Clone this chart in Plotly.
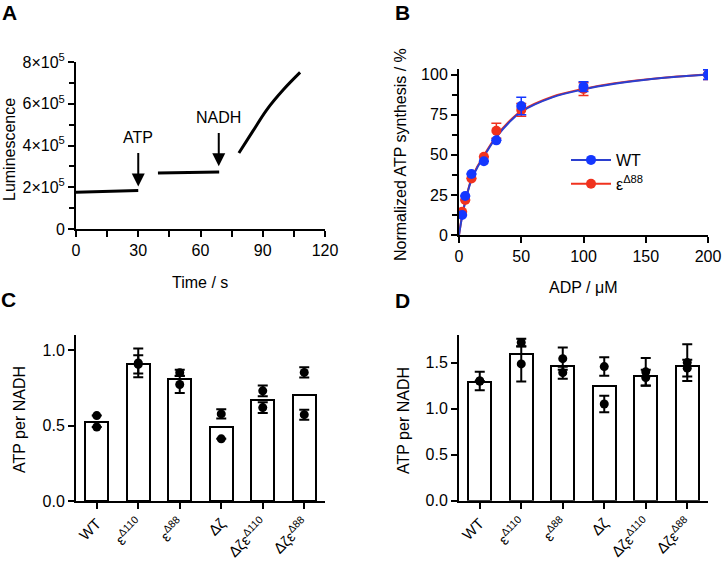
import plotly.graph_objects as go

# ---- Panel A: luminescence trace (None = gap between segments)
a_time = [0, 30, None, 39.5, 69, None, 78.5, 85, 92, 100, 108]
a_lum = [1.76e5, 1.85e5, None, 2.68e5, 2.73e5, None, 3.64e5, 4.65e5, 5.72e5, 6.68e5, 7.5e5]
a_yticks = [0, 2e5, 4e5, 6e5, 8e5]
a_yticktext = ["0", "2×10<sup>5</sup>", "4×10<sup>5</sup>", "6×10<sup>5</sup>", "8×10<sup>5</sup>"]

# ---- Panel B: ADP titration
b_adp = [2.5, 5, 10, 20, 30, 50, 100, 200]
b_wt = [12.5, 24.3, 38, 46, 59, 80.4, 92.5, 100]
b_wt_err = [0, 0, 0, 0, 0, 5.5, 3, 3]
b_e88 = [14.5, 21.8, 35.3, 48.8, 65, 78, 91, 100]
b_e88_err = [0, 0, 0, 0, 4.6, 4, 4, 3]
# fitted curves
b_fit_x = [0, 2.5, 5, 10, 15, 20, 30, 40, 50, 75, 100, 125, 150, 175, 200]
b_fit_wt = [0, 11.5, 20.5, 34.5, 42.5, 49, 61, 70, 76.8, 85.8, 90.8, 94.3, 96.8, 98.6, 100]
b_fit_e88 = [0, 12, 21, 35, 43, 49.6, 61.7, 70.6, 77.3, 86.2, 91.1, 94.6, 97, 98.8, 100.1]

# ---- Panels C and D: ATP per NADH
strains = ["WT", "ε<sup>Δ110</sup>", "ε<sup>Δ88</sup>", "Δζ",
           "Δζε<sup>Δ110</sup>", "Δζε<sup>Δ88</sup>"]
pos = [0, 1, 2, 3, 4, 5]
pt_pos = [0, 0, 1, 1, 2, 2, 3, 3, 4, 4, 5, 5]

c_bar = [0.521, 0.907, 0.807, 0.492, 0.672, 0.705]
c_pts = [0.566, 0.49, 0.915, 0.905, 0.85, 0.772, 0.577, 0.412, 0.73, 0.619, 0.852, 0.572]
c_err = [0, 0, 0.095, 0.06, 0.02, 0.056, 0.031, 0, 0.036, 0.036, 0.034, 0.033]

d_bar = [1.294, 1.595, 1.467, 1.243, 1.359, 1.464]
d_pts = [1.30, 1.30, 1.718, 1.486, 1.543, 1.391, 1.457, 1.051, 1.40, 1.337, 1.50, 1.44]
d_err = [0.1, 0, 0.04, 0.19, 0.12, 0.065, 0.1, 0.09, 0.15, 0.085, 0.2, 0.09]

W, H = 722, 563
FONT = "Liberation Sans, Arial, sans-serif"
BLUE = "#1437ff"
BLUE_LINE = "#2b3fcf"
RED = "#f0321e"


def px(x):
    return x / W


def py(y):
    return 1 - y / H


fig = go.Figure()

# A
fig.add_trace(go.Scatter(x=a_time, y=a_lum, mode="lines", line=dict(color="black", width=3, shape="spline"),
                         showlegend=False, xaxis="x", yaxis="y", connectgaps=False))

# B - fits
fig.add_trace(go.Scatter(x=b_fit_x, y=b_fit_e88, mode="lines", line=dict(color=RED, width=2, shape="spline"),
                         showlegend=False, xaxis="x2", yaxis="y2"))
fig.add_trace(go.Scatter(x=b_fit_x, y=b_fit_wt, mode="lines", line=dict(color=BLUE_LINE, width=2, shape="spline"),
                         showlegend=False, xaxis="x2", yaxis="y2"))
# B - points
fig.add_trace(go.Scatter(x=b_adp, y=b_e88, mode="markers", marker=dict(color=RED, size=10),
                         error_y=dict(type="data", array=b_e88_err, color=RED, thickness=1.5, width=5),
                         showlegend=False, xaxis="x2", yaxis="y2"))
fig.add_trace(go.Scatter(x=b_adp, y=b_wt, mode="markers", marker=dict(color=BLUE, size=10),
                         error_y=dict(type="data", array=b_wt_err, color=BLUE, thickness=1.5, width=5),
                         showlegend=False, xaxis="x2", yaxis="y2"))
# legend entries
fig.add_trace(go.Scatter(x=[None], y=[None], mode="lines+markers", name="WT",
                         line=dict(color=BLUE_LINE, width=2), marker=dict(color=BLUE, size=10),
                         xaxis="x2", yaxis="y2"))
fig.add_trace(go.Scatter(x=[None], y=[None], mode="lines+markers", name="ε<sup>Δ88</sup>",
                         line=dict(color=RED, width=2), marker=dict(color=RED, size=10),
                         xaxis="x2", yaxis="y2"))

# C and D
for bars, pts, errs, xa, ya in [(c_bar, c_pts, c_err, "x3", "y3"), (d_bar, d_pts, d_err, "x4", "y4")]:
    fig.add_trace(go.Bar(x=pos, y=bars, width=0.55, marker=dict(color="white", line=dict(color="black", width=2)),
                         showlegend=False, xaxis=xa, yaxis=ya))
    fig.add_trace(go.Scatter(x=pt_pos, y=pts, mode="markers", marker=dict(color="black", size=9),
                             error_y=dict(type="data", array=errs, color="black", thickness=2, width=5),
                             showlegend=False, xaxis=xa, yaxis=ya))

axis_common = dict(showline=True, linewidth=2, linecolor="black", ticks="outside", tickwidth=2,
                   ticklen=6, tickcolor="black", showgrid=False, zeroline=False,
                   tickfont=dict(family=FONT, size=16, color="black"), automargin=False)
cat_font = dict(family=FONT, size=15, color="black")

x_dom = [px(76), px(325)]
x_dom2 = [px(459), px(708)]

fig.update_layout(
    width=W, height=H,
    margin=dict(l=0, r=0, t=0, b=0),
    plot_bgcolor="white", paper_bgcolor="white",
    font=dict(family=FONT, size=15, color="black"),
    bargap=0,
    xaxis=dict(axis_common, domain=x_dom, range=[0, 120], tickvals=[0, 30, 60, 90, 120],
               minor=dict(dtick=15, ticks="outside", ticklen=6, tickwidth=2, tickcolor="black"),
               anchor="y"),
    yaxis=dict(axis_common, domain=[py(229), py(62)], range=[0, 8e5], tickvals=a_yticks,
               ticktext=a_yticktext,
               minor=dict(dtick=1e5, ticks="outside", ticklen=5, tickwidth=2, tickcolor="black"),
               anchor="x"),
    xaxis2=dict(axis_common, domain=x_dom2, range=[0, 200], tickvals=[0, 50, 100, 150, 200], anchor="y2"),
    yaxis2=dict(axis_common, domain=[py(235), py(69)], range=[0, 103.5], tickvals=[0, 25, 50, 75, 100],
                minor=dict(dtick=12.5, ticks="outside", ticklen=5, tickwidth=2, tickcolor="black"),
                anchor="x2"),
    xaxis3=dict(axis_common, domain=x_dom, range=[-0.5, 5.5], tickvals=pos, ticktext=strains,
                tickangle=-45, tickfont=cat_font, anchor="y3"),
    yaxis3=dict(axis_common, domain=[py(501), py(335)], range=[0, 1.1], tickvals=[0, 0.5, 1.0],
                tickformat=".1f", anchor="x3"),
    xaxis4=dict(axis_common, domain=x_dom2, range=[-0.5, 5.5], tickvals=pos, ticktext=strains,
                tickangle=-45, tickfont=cat_font, anchor="y4"),
    yaxis4=dict(axis_common, domain=[py(500.7), py(335)], range=[0, 1.8], tickvals=[0, 0.5, 1.0, 1.5],
                tickformat=".1f", anchor="x4"),
    legend=dict(x=px(566), y=py(143), xanchor="left", yanchor="top", bgcolor="rgba(0,0,0,0)",
                font=dict(family=FONT, size=16, color="black"), itemwidth=40, tracegroupgap=6),
)

# titles and panel letters
texts = [
    ("Luminescence", 9, 150, -90),
    ("Time / s", 200, 283, 0),
    ("Normalized ATP synthesis / %", 400, 155, -90),
    ("ADP / μM", 583, 287, 0),
    ("ATP per NADH", 19, 420, -90),
    ("ATP per NADH", 403, 421, -90),
]
for t, x, y, ang in texts:
    fig.add_annotation(text=t, x=px(x), y=py(y), xref="paper", yref="paper", showarrow=False,
                       xanchor="center", yanchor="middle",
                       textangle=ang, font=dict(family=FONT, size=16, color="black"))

for t, x, y in [("A", 9, 13), ("B", 402, 12), ("C", 8, 299), ("D", 402, 300)]:
    fig.add_annotation(text="<b>" + t + "</b>", x=px(x), y=py(y), xref="paper", yref="paper",
                       xanchor="center", yanchor="middle",
                       showarrow=False, font=dict(family=FONT, size=21, color="black"))

# arrows in panel A (label sits at the arrow's tail)
for label, tx, tipy, texty in [("ATP", 30, 2.04e5, 4.36e5), ("NADH", 68.8, 3.0e5, 5.32e5)]:
    fig.add_annotation(text=label, x=tx, y=tipy, ax=tx, ay=texty, xref="x", yref="y", axref="x", ayref="y",
                       showarrow=True, arrowhead=2, arrowsize=1.3, arrowwidth=2, arrowcolor="black",
                       startstandoff=5, font=dict(family=FONT, size=16, color="black"))

# remove the page's default body margin so the figure sits at the window corner
fig.write_html("out.html", config={"displayModeBar": False},
               post_script="document.body.style.margin='0';")
